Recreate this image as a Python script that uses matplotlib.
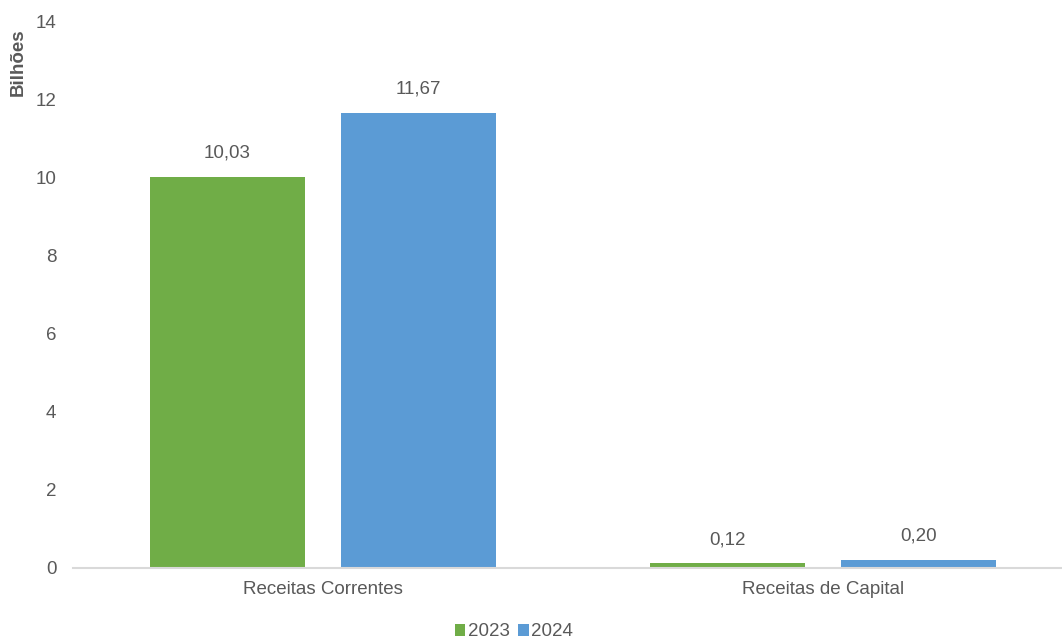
import matplotlib
matplotlib.use("Agg")
import matplotlib.pyplot as plt
import numpy as np

categories = ["Receitas Correntes", "Receitas de Capital"]
years = ["2023", "2024"]
values_2023 = [10.03, 0.12]
values_2024 = [11.67, 0.20]
labels_2023 = ["10,03", "0,12"]
labels_2024 = ["11,67", "0,20"]

GREEN = "#70AD47"
BLUE = "#5B9BD5"
TEXT = "#595959"
FS = 13.5

plt.rcParams["font.family"] = ["Liberation Sans", "DejaVu Sans"]

W, H = 1062, 641
fig = plt.figure(figsize=(W / 100, H / 100), dpi=100)
ax = fig.add_axes([73 / W, 1 - 568 / H, (W - 73) / W, (568 - 22) / H])

x = np.arange(len(categories))
width = 0.31
off = 0.191
b1 = ax.bar(x - off, values_2023, width, color=GREEN, label=years[0])
b2 = ax.bar(x + off, values_2024, width, color=BLUE, label=years[1])

for bars, labs in ((b1, labels_2023), (b2, labels_2024)):
    for rect, lab in zip(bars, labs):
        ax.annotate(lab, (rect.get_x() + rect.get_width() / 2, rect.get_height()),
                    xytext=(0, 11), textcoords="offset points",
                    ha="center", va="bottom", fontsize=FS, color=TEXT)

ax.set_xlim(-0.5, -0.5 + (W - 73) / 500)
ax.set_ylim(0, 14)
ax.set_yticks(range(0, 15, 2))
ax.set_xticks(x)
ax.set_xticklabels(categories)
ax.tick_params(axis="both", length=0, labelsize=FS, colors=TEXT)
ax.tick_params(axis="y", pad=12)
ax.tick_params(axis="x", pad=9)
for s in ("top", "right", "left"):
    ax.spines[s].set_visible(False)
ax.spines["bottom"].set_color("#D9D9D9")
ax.spines["bottom"].set_linewidth(1.5)

fig.text(18 / W, 1 - 62 / H, "Bilhões", rotation=90, ha="center", va="center",
         fontsize=FS, fontweight="bold", color=TEXT)

leg = fig.legend(loc="center", bbox_to_anchor=(514 / W, 1 - 632 / H), ncol=2,
                 frameon=False, fontsize=FS, handlelength=0.55, handleheight=0.55,
                 handletextpad=0.15, columnspacing=0.45)
for t in leg.get_texts():
    t.set_color(TEXT)

fig.savefig("out.png", dpi=100)
